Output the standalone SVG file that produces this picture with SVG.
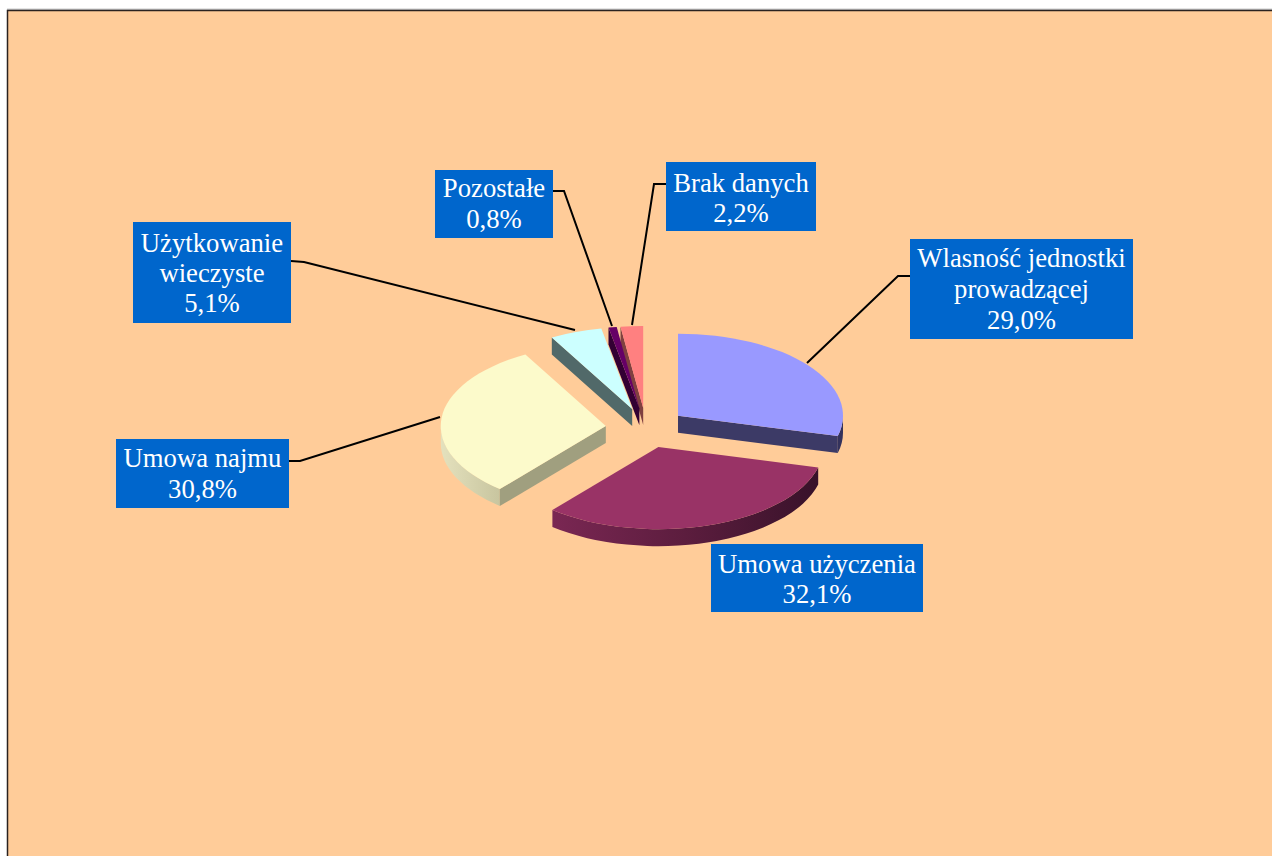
<svg xmlns="http://www.w3.org/2000/svg" width="1272" height="856" viewBox="0 0 1272 856">
<style>
.box{fill:#0066CC}
.lbl{font-family:"Liberation Serif","Times New Roman",serif;font-size:26.7px;fill:#FFFFFF;text-anchor:middle}
.lead{fill:none;stroke:#000000;stroke-width:2}
</style>
<defs>
<linearGradient id="gUz" x1="552" y1="0" x2="818" y2="0" gradientUnits="userSpaceOnUse">
<stop offset="0" stop-color="#7A2753"/>
<stop offset="0.5" stop-color="#5C1D3E"/>
<stop offset="1" stop-color="#38122A"/>
</linearGradient>
<linearGradient id="gNa" x1="441" y1="0" x2="500" y2="0" gradientUnits="userSpaceOnUse">
<stop offset="0" stop-color="#E4E1BD"/>
<stop offset="1" stop-color="#C8C59F"/>
</linearGradient>
</defs>
<rect x="0" y="0" width="1272" height="856" fill="#FFFFFF"/>
<line x1="7" y1="9.2" x2="1272" y2="9.2" stroke="#AAAAAA" stroke-width="1"/>
<rect x="7.5" y="10.5" width="1280" height="860" fill="#FFCC99" stroke="#2A2220" stroke-width="1.5"/>

<g id="slice-brak">
<path d="M643.2,408 L620.5,326.7 L620.5,343.7 L643.2,425 Z" fill="#804040"/>
<path d="M643.2,408 L620.5,326.7 A165,82 0 0,1 643.2,326 Z" fill="#FF8080"/>
</g>
<g id="slice-pozostale">
<path d="M639.4,408.2 L608.5,327.6 L608.5,344.6 L639.4,425.2 Z" fill="#330033"/>
<path d="M639.4,408.2 L608.5,327.6 A165,82 0 0,1 616.7,327 Z" fill="#660066"/>
</g>
<g id="slice-uzytkowanie">
<path d="M632.2,409.1 L551.8,337.5 L551.8,354.5 L632.2,426.1 Z" fill="#516969"/>
<path d="M632.2,409.1 L551.8,337.5 A165,82 0 0,1 601.3,328.6 Z" fill="#CCFFFF"/>
</g>
<g id="slice-wlasnosc">
<path d="M843,415.7 A165,82 0 0,1 837.8,436.1 L837.8,453.1 A165,82 0 0,0 843,432.7 Z" fill="#34325C"/>
<path d="M678,415.7 L837.8,436.1 L837.8,453.1 L678,432.7 Z" fill="#3C3A66"/>
<path d="M678,415.7 L678,333.7 A165,82 0 0,1 837.8,436.1 Z" fill="#9999FF"/>
</g>
<g id="slice-najmu">
<path d="M499.8,489 A165,82 0 0,1 440.8,426.1 L440.8,443.1 A165,82 0 0,0 499.8,506 Z" fill="url(#gNa)"/>
<path d="M605.8,426.1 L499.8,489 L499.8,506 L605.8,443.1 Z" fill="#A09F7F"/>
<path d="M605.8,426.1 L499.8,489 A165,82 0 0,1 525.4,354.5 Z" fill="#FCFACB"/>
</g>
<g id="slice-uzyczenia">
<path d="M818.2,467.5 A165,82 0 0,1 552.4,510 L552.4,527 A165,82 0 0,0 818.2,484.5 Z" fill="url(#gUz)"/>
<path d="M658.4,447.1 L818.2,467.5 A165,82 0 0,1 552.4,510 Z" fill="#993366"/>
</g>

<g id="connectors">
<polyline class="lead" points="910,276 898,276 807,363"/>
<polyline class="lead" points="666,184 654,184 632,325"/>
<polyline class="lead" points="553,191 564,191 612,326"/>
<polyline class="lead" points="291,261 304,262 575,330"/>
<polyline class="lead" points="289,461 300,461 440,417"/>
</g>

<g id="label-wlasnosc">
<rect class="box" x="910" y="239" width="223" height="100"/>
<text class="lbl" x="1021.5" y="267">Wlasność jednostki</text>
<text class="lbl" x="1021.5" y="298">prowadzącej</text>
<text class="lbl" x="1021.5" y="329">29,0%</text>
</g>
<g id="label-brak">
<rect class="box" x="666" y="162" width="150" height="69"/>
<text class="lbl" x="741" y="192">Brak danych</text>
<text class="lbl" x="741" y="222">2,2%</text>
</g>
<g id="label-pozostale">
<rect class="box" x="435" y="170" width="118" height="68"/>
<text class="lbl" x="494" y="197">Pozostałe</text>
<text class="lbl" x="494" y="228">0,8%</text>
</g>
<g id="label-uzytkowanie">
<rect class="box" x="133" y="222" width="158" height="101"/>
<text class="lbl" x="212" y="252">Użytkowanie</text>
<text class="lbl" x="212" y="282">wieczyste</text>
<text class="lbl" x="212" y="312">5,1%</text>
</g>
<g id="label-najmu">
<rect class="box" x="116" y="439" width="173" height="69"/>
<text class="lbl" x="202.5" y="467">Umowa najmu</text>
<text class="lbl" x="202.5" y="498">30,8%</text>
</g>
<g id="label-uzyczenia">
<rect class="box" x="711" y="544" width="212" height="68"/>
<text class="lbl" x="817" y="573">Umowa użyczenia</text>
<text class="lbl" x="817" y="603">32,1%</text>
</g>
</svg>
